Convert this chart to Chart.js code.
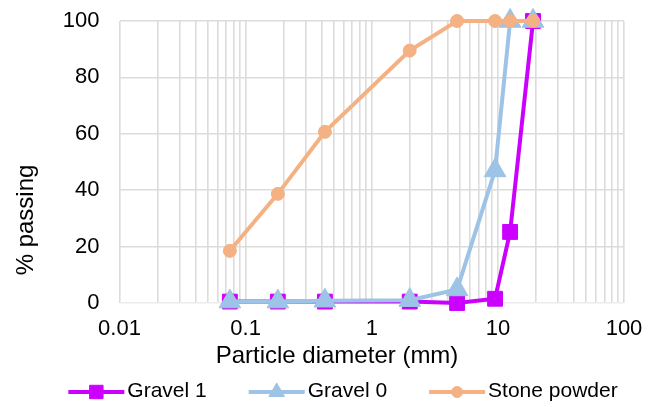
<!DOCTYPE html>
<html><head><meta charset="utf-8">
<script src="https://cdn.jsdelivr.net/npm/chart.js@4"></script>
<style>html,body{margin:0;padding:0;background:#fff;}</style>
</head><body>
<canvas id="c" width="657" height="407" style="display:block;width:657px;height:407px"></canvas>
<script>
const sieveSizes = [0.075, 0.18, 0.425, 2, 4.75, 9.5, 12.5, 19];
const gravel1 = [0.5, 0.5, 0.5, 0.5, 0, 1.5, 25.2, 100];
const gravel0 = [0.5, 0.5, 0.8, 1.0, 4.8, 47, 100, 100];
const stonePowder = [18.5, 38.7, 60.7, 89.5, 100, 100, 100, 100];
const seriesNames = ['Gravel 1', 'Gravel 0', 'Stone powder'];
const xTickLabels = ['0.01', '0.1', '1', '10', '100'];
const yTickLabels = ['0', '20', '40', '60', '80', '100'];
const xTitle = 'Particle diameter (mm)';
const yTitle = '% passing';

const FONT = '"Liberation Sans", Arial, sans-serif';
const colors = ['#CC00FF', '#9DC3E6', '#F4B183'];
const styles = ['rect', 'triangle', 'circle'];
const radii = [10.5, 12.5, 6.5];
const legendRadii = [9.5, 9, 5.5];

function pts(vals) { return sieveSizes.map((x, i) => ({ x: x, y: vals[i] })); }
const seriesValues = [gravel1, gravel0, stonePowder];

const datasets = seriesNames.map((name, i) => ({
  label: name,
  data: pts(seriesValues[i]),
  borderColor: colors[i],
  backgroundColor: colors[i],
  pointBackgroundColor: colors[i],
  pointBorderColor: colors[i],
  borderWidth: 4,
  pointStyle: styles[i],
  pointRadius: radii[i],
  pointHoverRadius: radii[i],
  pointBorderWidth: 1,
  tension: 0,
  clip: false,
  order: 3 - i
}));

const overlay = {
  id: 'overlay',
  afterDraw(chart) {
    const ctx = chart.ctx;
    ctx.save();
    ctx.fillStyle = '#000';
    ctx.textAlign = 'center';
    ctx.textBaseline = 'middle';
    ctx.font = '24px ' + FONT;
    ctx.fillText(xTitle, 337, 356);
    ctx.save();
    ctx.translate(26, 220);
    ctx.rotate(-Math.PI / 2);
    ctx.fillText(yTitle, 0, 0);
    ctx.restore();

    // legend
    ctx.font = '21px ' + FONT;
    const lineLen = 56, gapText = 3, gapItem = 42;
    const widths = seriesNames.map(n => ctx.measureText(n).width);
    let total = 0;
    widths.forEach(w => total += lineLen + gapText + w);
    total += gapItem * (seriesNames.length - 1);
    let x = 343 - total / 2;
    const y = 392;
    seriesNames.forEach((name, i) => {
      ctx.strokeStyle = colors[i];
      ctx.lineWidth = 4;
      ctx.beginPath();
      ctx.moveTo(x, y);
      ctx.lineTo(x + lineLen, y);
      ctx.stroke();
      ctx.fillStyle = colors[i];
      ctx.lineWidth = 1;
      Chart.helpers.drawPoint(ctx, { pointStyle: styles[i], radius: legendRadii[i], rotation: 0, borderWidth: 1 }, x + lineLen / 2, y);
      ctx.fillStyle = '#000';
      ctx.textAlign = 'left';
      ctx.fillText(name, x + lineLen + gapText, y - 1);
      x += lineLen + gapText + widths[i] + gapItem;
    });
    ctx.restore();
  }
};

new Chart(document.getElementById('c'), {
  type: 'line',
  data: { datasets: datasets },
  options: {
    responsive: false,
    animation: false,
    devicePixelRatio: 1,
    layout: { autoPadding: false, padding: { top: 21, right: 33, left: 0, bottom: 0 } },
    plugins: { legend: { display: false }, tooltip: { enabled: false } },
    scales: {
      x: {
        type: 'logarithmic',
        min: 0.01,
        max: 100,
        afterFit: (s) => { s.height = 104; },
        afterBuildTicks: (s) => {
          const dec = xTickLabels.map(parseFloat);
          const t = [];
          for (let i = 0; i < dec.length - 1; i++) {
            for (let k = 1; k < 10; k++) t.push({ value: k * dec[i] });
          }
          t.push({ value: dec[dec.length - 1] });
          s.ticks = t;
        },
        ticks: {
          autoSkip: false,
          maxRotation: 0,
          padding: 0,
          color: '#000',
          font: { family: FONT, size: 22 },
          callback: (v) => {
            const l = xTickLabels.find(l => Math.abs(Math.log10(parseFloat(l)) - Math.log10(v)) < 1e-6);
            return l !== undefined ? l : '';
          }
        },
        grid: { color: '#dcdcdc', lineWidth: 1.6, drawTicks: true, tickLength: 13, tickColor: 'rgba(0,0,0,0)' },
        border: { display: false }
      },
      y: {
        type: 'linear',
        min: 0,
        max: 100,
        afterFit: (s) => { s.width = 119.5; },
        ticks: {
          stepSize: 20,
          padding: 0,
          color: '#000',
          font: { family: FONT, size: 22 },
          callback: (v) => { const l = yTickLabels.find(l => +l === v); return l !== undefined ? l : ''; }
        },
        grid: {
          color: (c) => (c.tick && c.tick.value === 0 ? '#ececec' : '#dcdcdc'),
          lineWidth: 1.6,
          drawTicks: true,
          tickLength: 20,
          tickColor: 'rgba(0,0,0,0)'
        },
        border: { display: false }
      }
    }
  },
  plugins: [overlay]
});
</script>
</body></html>
